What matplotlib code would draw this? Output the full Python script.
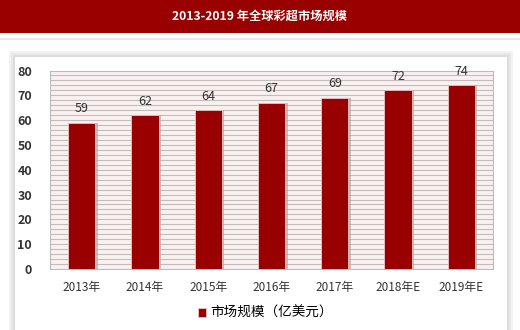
import matplotlib.pyplot as plt
import matplotlib.patches as mpatches
import numpy as np

plt.rcParams['font.family'] = ['Noto Sans CJK SC', 'DejaVu Sans']

### Data

years = ["2013年", "2014年", "2015年", "2016年", "2017年", "2018年E", "2019年E"]
market_size = [59, 62, 64, 67, 69, 72, 74]
yticks = [0, 10, 20, 30, 40, 50, 60, 70, 80]

title = "2013-2019 年全球彩超市场规模"
legend_label = "市场规模（亿美元）"

bar_red = "#990000"

### Figure and frame

fig = plt.figure(figsize=(5.2, 3.3), dpi=100)
fig.patch.set_facecolor("white")

# red title bar
fig.patches.append(mpatches.Rectangle((0, 1 - 33/330), 1, 33/330, transform=fig.transFigure,
                                      facecolor=bar_red, edgecolor="none", zorder=0))
fig.text(0.5, 1 - 16/330, title, color="white", fontsize=8.8, fontweight="bold",
         ha="center", va="center")
# thin grey separator
fig.patches.append(mpatches.Rectangle((0, 1 - 40/330), 1, 2/330, transform=fig.transFigure,
                                      facecolor="#e8e8e8", edgecolor="none", zorder=0))

# soft panel shadow and white panel
for pad, col in [(6, "#f2f2f2"), (4, "#e8e8e8"), (2, "#dcdcdc")]:
    fig.patches.append(mpatches.Rectangle(((15 - pad)/520, 0), (492 + 2*pad)/520, 1 - (57 - pad)/330,
                                          transform=fig.transFigure, facecolor=col,
                                          edgecolor="none", zorder=0))
fig.patches.append(mpatches.Rectangle((15/520, 0), 492/520, 1 - 57/330, transform=fig.transFigure,
                                      facecolor="white", edgecolor="none", zorder=0))

### Axes

ax = fig.add_axes([50/520, 1 - 269/330, 443/520, 198.5/330])
ax.set_zorder(2)
ax.set_facecolor("#f9f0f0")
x = np.arange(len(years))

# striped background
for v in np.arange(2, 80, 2):
    ax.axhline(v, color="#c4bcbc", lw=0.8, zorder=1)

# shadows then bars
ax.bar(x + 0.04, market_size, width=0.43, color="#b0a8a8", alpha=0.7, zorder=2)
bars = ax.bar(x, market_size, width=0.43, color=bar_red, edgecolor="#e8c8c8", lw=0.6, zorder=3,
              label=legend_label)

for xi, v in zip(x, market_size):
    ax.text(xi, v + 3, str(v), ha="center", va="bottom", fontsize=9, color="#333333")

ax.set_xlim(-0.5, len(years) - 0.5)
ax.set_ylim(0, 80)
ax.set_yticks(yticks)
ax.set_yticklabels([str(t) for t in yticks], fontsize=9, color="#333333", fontweight="bold")
ax.set_xticks(x)
ax.set_xticklabels(years, fontsize=8.5, color="#333333")
ax.tick_params(axis="both", length=0)
ax.tick_params(axis="y", pad=13)
ax.tick_params(axis="x", pad=9)
for s in ax.spines.values():
    s.set_color("#bbbbbb")
    s.set_linewidth(0.8)

leg = fig.legend(handles=[bars], labels=[legend_label], loc="center", bbox_to_anchor=(0.51, 1 - 313/330),
                 frameon=False, fontsize=9.8, handlelength=0.6, handleheight=0.6, handletextpad=0.3)
leg.set_zorder(3)

fig.savefig("out.png", dpi=100)
